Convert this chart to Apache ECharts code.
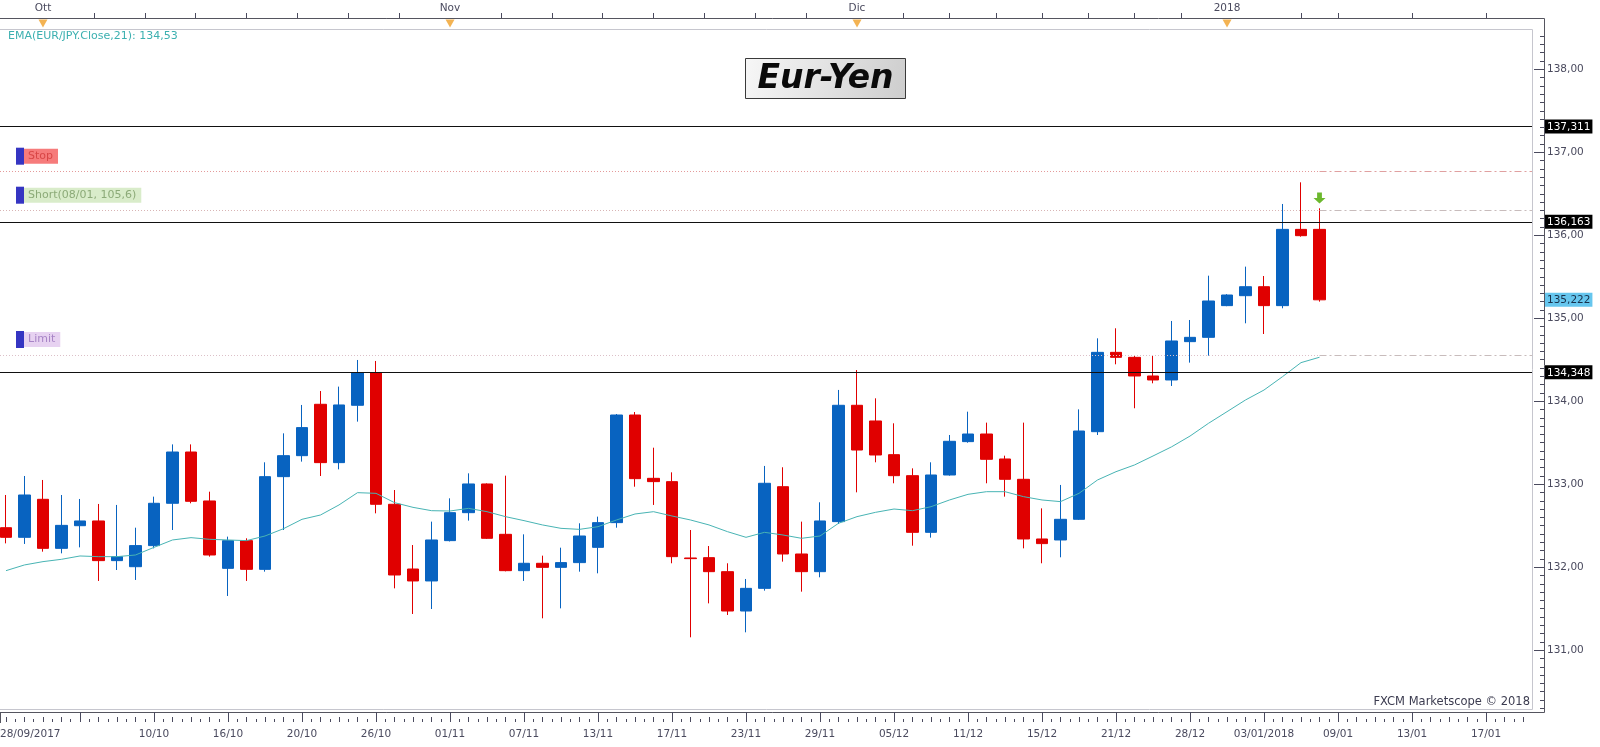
<!DOCTYPE html>
<html>
<head>
<meta charset="utf-8">
<script src="https://cdn.jsdelivr.net/npm/echarts@6/dist/echarts.min.js"></script>
<style>
html,body{margin:0;padding:0;background:#ffffff;}
#chart{width:1600px;height:747px;}
</style>
</head>
<body>
<div id="chart"></div>
<script>
// ---------------- DATA ----------------
const dates = ['28/09','29/09','02/10','03/10','04/10','05/10','06/10','09/10','10/10','11/10','12/10','13/10',
  '16/10','17/10','18/10','19/10','20/10','23/10','24/10','25/10','26/10','27/10','30/10','31/10',
  '01/11','02/11','03/11','06/11','07/11','08/11','09/11','10/11','13/11','14/11','15/11','16/11',
  '17/11','20/11','21/11','22/11','23/11','24/11','27/11','28/11','29/11','30/11','01/12','04/12',
  '05/12','06/12','07/12','08/12','11/12','12/12','13/12','14/12','15/12','18/12','19/12','20/12',
  '21/12','22/12','26/12','27/12','28/12','29/12','01/01','02/01','03/01','04/01','05/01','08/01'];

const opens = [132.476,132.36,132.818,132.227,132.50,132.557,132.079,132.006,132.26,132.77,133.388,132.798,
  131.986,132.32,131.974,133.091,133.344,133.963,133.26,133.951,134.344,132.758,131.978,131.834,
  132.32,132.657,133.003,132.396,131.958,132.047,131.998,132.055,132.239,132.537,133.834,133.071,
  133.031,132.111,132.115,131.946,131.472,131.745,132.97,132.159,131.946,132.549,133.951,133.762,
  133.356,133.103,132.42,133.111,133.513,133.605,133.304,133.059,132.34,132.328,132.577,133.633,
  134.589,134.529,134.304,134.256,134.718,134.77,135.152,135.272,135.38,135.152,136.071,136.071];

const closes = [132.36,132.87,132.227,132.504,132.557,132.079,132.127,132.26,132.77,133.388,132.794,132.147,
  132.32,131.974,133.091,133.344,133.682,133.26,133.955,134.344,132.758,131.906,131.834,132.328,
  132.657,133.003,132.348,131.958,132.047,131.998,132.055,132.376,132.537,133.834,133.067,133.031,
  132.127,132.103,131.946,131.472,131.745,133.011,132.159,131.946,132.557,133.951,133.412,133.352,
  133.103,132.42,133.111,133.517,133.605,133.3,133.059,132.34,132.284,132.577,133.641,134.589,
  134.529,134.304,134.256,134.726,134.77,135.208,135.28,135.38,135.152,136.071,135.995,135.222];

const lows = [132.287,132.28,132.187,132.167,132.239,131.834,131.966,131.846,132.227,132.448,132.77,132.127,
  131.653,131.834,131.946,132.448,133.272,133.099,133.179,133.754,132.649,131.745,131.436,131.496,
  132.31,132.561,132.34,131.95,131.834,131.384,131.504,131.946,131.926,132.476,132.97,132.75,
  132.047,131.155,131.564,131.424,131.215,131.717,132.067,131.705,131.878,132.521,132.902,133.264,
  133.011,132.259,132.356,133.103,133.5,133.011,132.85,132.227,132.047,132.119,132.569,133.593,
  134.445,133.915,134.216,134.184,134.465,134.549,135.145,134.939,134.81,135.12,135.983,135.2];

const highs = [132.87,133.099,133.051,132.87,132.822,132.762,132.75,132.476,132.85,133.48,133.48,132.91,
  132.368,132.348,133.264,133.613,133.955,134.123,134.176,134.497,134.485,132.93,132.267,132.549,
  132.83,133.131,133.01,133.103,132.396,132.139,132.235,132.529,132.609,133.846,133.87,133.44,
  133.143,132.448,132.255,132.047,131.858,133.22,133.204,132.549,132.782,134.136,134.376,134.035,
  133.734,133.191,133.264,133.593,133.874,133.742,133.344,133.742,132.709,132.991,133.902,134.758,
  134.879,134.545,134.545,134.967,134.979,135.513,135.29,135.622,135.509,136.377,136.638,136.325];

const ema21 = [131.958,132.027,132.067,132.095,132.135,132.127,132.127,132.147,132.239,132.328,132.356,132.336,
  132.328,132.32,132.376,132.464,132.577,132.629,132.75,132.898,132.89,132.778,132.721,132.681,
  132.677,132.709,132.669,132.609,132.561,132.509,132.468,132.456,132.488,132.569,132.641,132.669,
  132.617,132.569,132.509,132.428,132.36,132.42,132.388,132.348,132.376,132.529,132.609,132.661,
  132.701,132.681,132.729,132.81,132.878,132.91,132.91,132.85,132.81,132.79,132.89,133.051,
  133.151,133.232,133.34,133.45,133.58,133.734,133.874,134.015,134.135,134.296,134.465,134.53];

const levelValues = [137.311, 136.163, 134.348];
const levelLabels = ['137,311', '136,163', '134,348'];
const lastPrice = 135.222;
const lastPriceLabel = '135,222';
const orderLevels = [136.766, 136.296, 134.557];
const orderTags = ['Stop', 'Short(08/01, 105,6)', 'Limit'];
const signalIdx = 71;
const signalValue = 136.45;

const monthIdx = [2, 24, 46, 66];
const monthLabels = ['Ott', 'Nov', 'Dic', '2018'];
const topTickIdx = [4.75,7.5,10.25,13,15.75,18.5,21.25,26.75,29.5,32.25,35,37.75,40.5,43.25,
  48.5,51,53.5,56,58.5,61,63.5,70,72,76,80];

const xLabelIdx = [0,8,12,16,20,24,28,32,36,40,44,48,52,56,60,64,68,72,76,80];
const xLabels = ['28/09/2017','10/10','16/10','20/10','26/10','01/11','07/11','13/11','17/11','23/11',
  '29/11','05/12','11/12','15/12','21/12','28/12','03/01/2018','09/01','13/01','17/01'];
const yTickValues = [131, 132, 133, 134, 135, 136, 137, 138];

const emaTitle = 'EMA(EUR/JPY.Close,21): 134,53';
const chartTitle = 'Eur-Yen';
const footer = 'FXCM Marketscope \u00A9 2018';

// ---------------- LAYOUT ----------------
const X_MIN = -0.3243, X_MAX = 82.486;
const Y_MIN = 130.291, Y_MAX = 138.4857;
const FONT = '"DejaVu Sans", Verdana, sans-serif';
const AX_COLOR = '#4a4a5e';
const GRID = {left: 0, top: 29, width: 1532, height: 680, containLabel: false, outerBoundsMode: 'none', show: false};

const majorX = []; for (let v = 4; v <= 80; v += 4) majorX.push(v);
const intX = []; for (let v = 0; v <= 82; v++) intX.push(v);
const halfX = []; for (let v = 0; v <= 81; v++) halfX.push(v + 0.5);
const minorY = []; for (let k = 1303; k <= 1384; k++) minorY.push(k / 10);
// first date label is clamped to the left edge of the axis, as in the original
const xLabelPos = xLabelIdx.map((v, i) => (i === 0 ? X_MIN : v));

const fmtComma = v => v.toFixed(2).replace('.', ',');

const candleData = dates.map((d, i) => [i, opens[i], closes[i], lows[i], highs[i]]);
const emaData = ema21.map((v, i) => [i, v]);

const tagRich = {
  m: {width: 8, height: 17, backgroundColor: '#3535c2'},
  s: {backgroundColor: '#f67b7b', color: '#d84646', padding: [2, 5, 2, 4], fontSize: 11, lineHeight: 13, fontFamily: FONT},
  g: {backgroundColor: '#d9ecca', color: '#8caa78', padding: [2, 5, 2, 4], fontSize: 11, lineHeight: 13, fontFamily: FONT},
  l: {backgroundColor: '#e7d2f1', color: '#a784c6', padding: [2, 5, 2, 4], fontSize: 11, lineHeight: 13, fontFamily: FONT}
};
const tagKeys = ['s', 'g', 'l'];
const dotColors = ['#e49a9a', '#d8b4b4', '#dcc0c8'];
const dashColors = ['#e0a0a0', '#c8bcbc', '#c8bcbc'];

const markLines = [];
levelValues.forEach(v => {
  markLines.push({yAxis: v, lineStyle: {color: '#111111', type: 'solid', width: 1}, label: {show: false}});
});
orderLevels.forEach((v, k) => {
  markLines.push([
    {coord: [X_MIN, v], lineStyle: {color: dotColors[k], type: [1, 2], width: 1},
     label: {show: true, position: 'insideStartTop', distance: [16, 7],
             formatter: '{m|}{' + tagKeys[k] + '|' + orderTags[k] + '}', rich: tagRich}},
    {coord: [signalIdx, v]}
  ]);
  markLines.push([
    {coord: [signalIdx, v], lineStyle: {color: dashColors[k], type: [7, 3, 2, 3], width: 1}, label: {show: false}},
    {coord: [X_MAX, v]}
  ]);
});

const sideLabelValues = levelValues.concat([lastPrice]);

function xAx(grid, extra) {
  return Object.assign({type: 'value', gridIndex: grid, min: X_MIN, max: X_MAX,
    axisLine: {show: false, onZero: false}, splitLine: {show: false}, axisLabel: {show: false}, axisTick: {show: false}}, extra);
}
function yAx(grid, extra) {
  return Object.assign({type: 'value', gridIndex: grid, position: 'right', offset: 12, min: Y_MIN, max: Y_MAX,
    axisLine: {show: false, onZero: false}, splitLine: {show: false}, axisLabel: {show: false}, axisTick: {show: false}}, extra);
}

const chart = echarts.init(document.getElementById('chart'), null, {renderer: 'canvas'});
chart.setOption({
  animation: false,
  backgroundColor: '#ffffff',
  grid: [Object.assign({}, GRID), Object.assign({}, GRID), Object.assign({}, GRID)],
  xAxis: [
    xAx(0, {position: 'bottom', offset: 3,
     axisTick: {show: true, inside: false, length: 10, customValues: majorX, lineStyle: {color: AX_COLOR}},
     axisLabel: {show: true, customValues: xLabelPos, margin: 17, alignMinLabel: 'left',
                 color: AX_COLOR, fontSize: 10.5, fontFamily: FONT,
                 formatter: v => { const k = xLabelIdx.indexOf(Math.round(v)); return k >= 0 ? xLabels[k] : ''; }}}),
    xAx(0, {position: 'top', offset: 11,
     axisTick: {show: true, inside: false, length: 5, customValues: topTickIdx, lineStyle: {color: AX_COLOR}},
     axisLabel: {show: true, customValues: monthIdx, margin: 4, color: AX_COLOR, fontSize: 10.5, fontFamily: FONT,
                 formatter: v => { const k = monthIdx.indexOf(Math.round(v)); return k >= 0 ? monthLabels[k] : ''; }}}),
    xAx(1, {position: 'bottom', offset: 13,
     axisTick: {show: true, inside: true, length: 5, customValues: intX, lineStyle: {color: AX_COLOR}}}),
    xAx(2, {position: 'bottom', offset: 13,
     axisTick: {show: true, inside: true, length: 3, customValues: halfX, lineStyle: {color: AX_COLOR}}})
  ],
  yAxis: [
    yAx(0, {
     axisTick: {show: true, inside: true, length: 10, customValues: yTickValues, lineStyle: {color: AX_COLOR}},
     axisLabel: {show: true, customValues: yTickValues, margin: 3, color: AX_COLOR, fontSize: 10.5, fontFamily: FONT,
                 formatter: v => fmtComma(v)}}),
    yAx(1, {
     axisTick: {show: true, inside: true, length: 4, customValues: minorY, lineStyle: {color: AX_COLOR}}}),
    yAx(2, {
     axisLabel: {show: true, customValues: sideLabelValues, margin: 1,
                 formatter: v => {
                   const k = levelValues.findIndex(x => Math.abs(x - v) < 1e-6);
                   return k >= 0 ? '{k|' + levelLabels[k] + '}' : '{c|' + lastPriceLabel + '}';
                 },
                 rich: {
                   k: {backgroundColor: '#000000', color: '#ffffff', fontSize: 10.5, fontFamily: FONT, padding: [2, 2, 1, 2], lineHeight: 13},
                   c: {backgroundColor: '#66c6ee', color: '#18304a', fontSize: 10.5, fontFamily: FONT, padding: [2, 2, 1, 2], lineHeight: 13}
                 }}})
  ],
  series: [
    {type: 'candlestick', name: 'EUR/JPY', xAxisIndex: 0, yAxisIndex: 0,
     data: candleData, encode: {x: 0, y: [1, 2, 3, 4]}, barWidth: 12,
     itemStyle: {color: '#0863c0', color0: '#e00000', borderColor: '#0863c0', borderColor0: '#e00000', borderWidth: 1},
     markLine: {silent: true, symbol: ['none', 'none'], animation: false, data: markLines},
     markPoint: {silent: true, animation: false,
       symbol: 'path://M3,0 L7,0 L7,5 L10,5 L5,10 L0,5 L3,5 Z', symbolSize: [12, 11],
       itemStyle: {color: '#6cb82e'}, label: {show: false},
       data: [{coord: [signalIdx, signalValue]}]}},
    {type: 'line', name: 'EMA21', xAxisIndex: 0, yAxisIndex: 0, data: emaData,
     showSymbol: false, symbol: 'none', lineStyle: {color: '#48b4b4', width: 1}, z: 3},
    {type: 'scatter', name: 'months', xAxisIndex: 0, yAxisIndex: 0, clip: false,
     data: monthIdx.map(i => [i, Y_MAX]), symbol: 'triangle', symbolRotate: 180,
     symbolSize: [9, 8], symbolOffset: [0, -5.5], itemStyle: {color: '#f0a028'}, z: 10}
  ],
  graphic: [
    {type: 'polyline', silent: true, shape: {points: [[0, 29.5], [1532.5, 29.5], [1532.5, 709.5], [0, 709.5]]},
     style: {stroke: '#c6c6ce', lineWidth: 1, fill: null}},
    {type: 'polyline', silent: true, shape: {points: [[0, 18.5], [1544.5, 18.5], [1544.5, 712.5], [0, 712.5]]},
     style: {stroke: '#55555f', lineWidth: 1, fill: null}},
    {type: 'line', silent: true, shape: {x1: 0.5, y1: 712.5, x2: 0.5, y2: 723}, style: {stroke: '#55555f', lineWidth: 1}},
    {type: 'rect', silent: true, shape: {x: 745.5, y: 58.5, width: 160, height: 40},
     style: {fill: new echarts.graphic.LinearGradient(0, 0, 1, 1, [{offset: 0, color: '#f7f7f7'}, {offset: 1, color: '#cdcdcd'}]),
             stroke: '#3a3a3a', lineWidth: 1}},
    {type: 'text', silent: true, x: 825.5, y: 79,
     style: {text: chartTitle, font: 'italic bold 33px "DejaVu Sans", Arial, sans-serif', fill: '#0a0a0a',
             align: 'center', verticalAlign: 'middle', textAlign: 'center', textVerticalAlign: 'middle'}},
    {type: 'text', silent: true, x: 8, y: 36,
     style: {text: emaTitle, font: '11px "DejaVu Sans", Verdana, sans-serif', fill: '#3cb0b0',
             verticalAlign: 'middle', textVerticalAlign: 'middle'}},
    {type: 'text', silent: true, x: 1530, y: 702,
     style: {text: footer, font: '11.5px "DejaVu Sans", Verdana, sans-serif', fill: '#3c3c50',
             align: 'right', verticalAlign: 'middle', textAlign: 'right', textVerticalAlign: 'middle'}}
  ]
});
</script>
</body>
</html>
